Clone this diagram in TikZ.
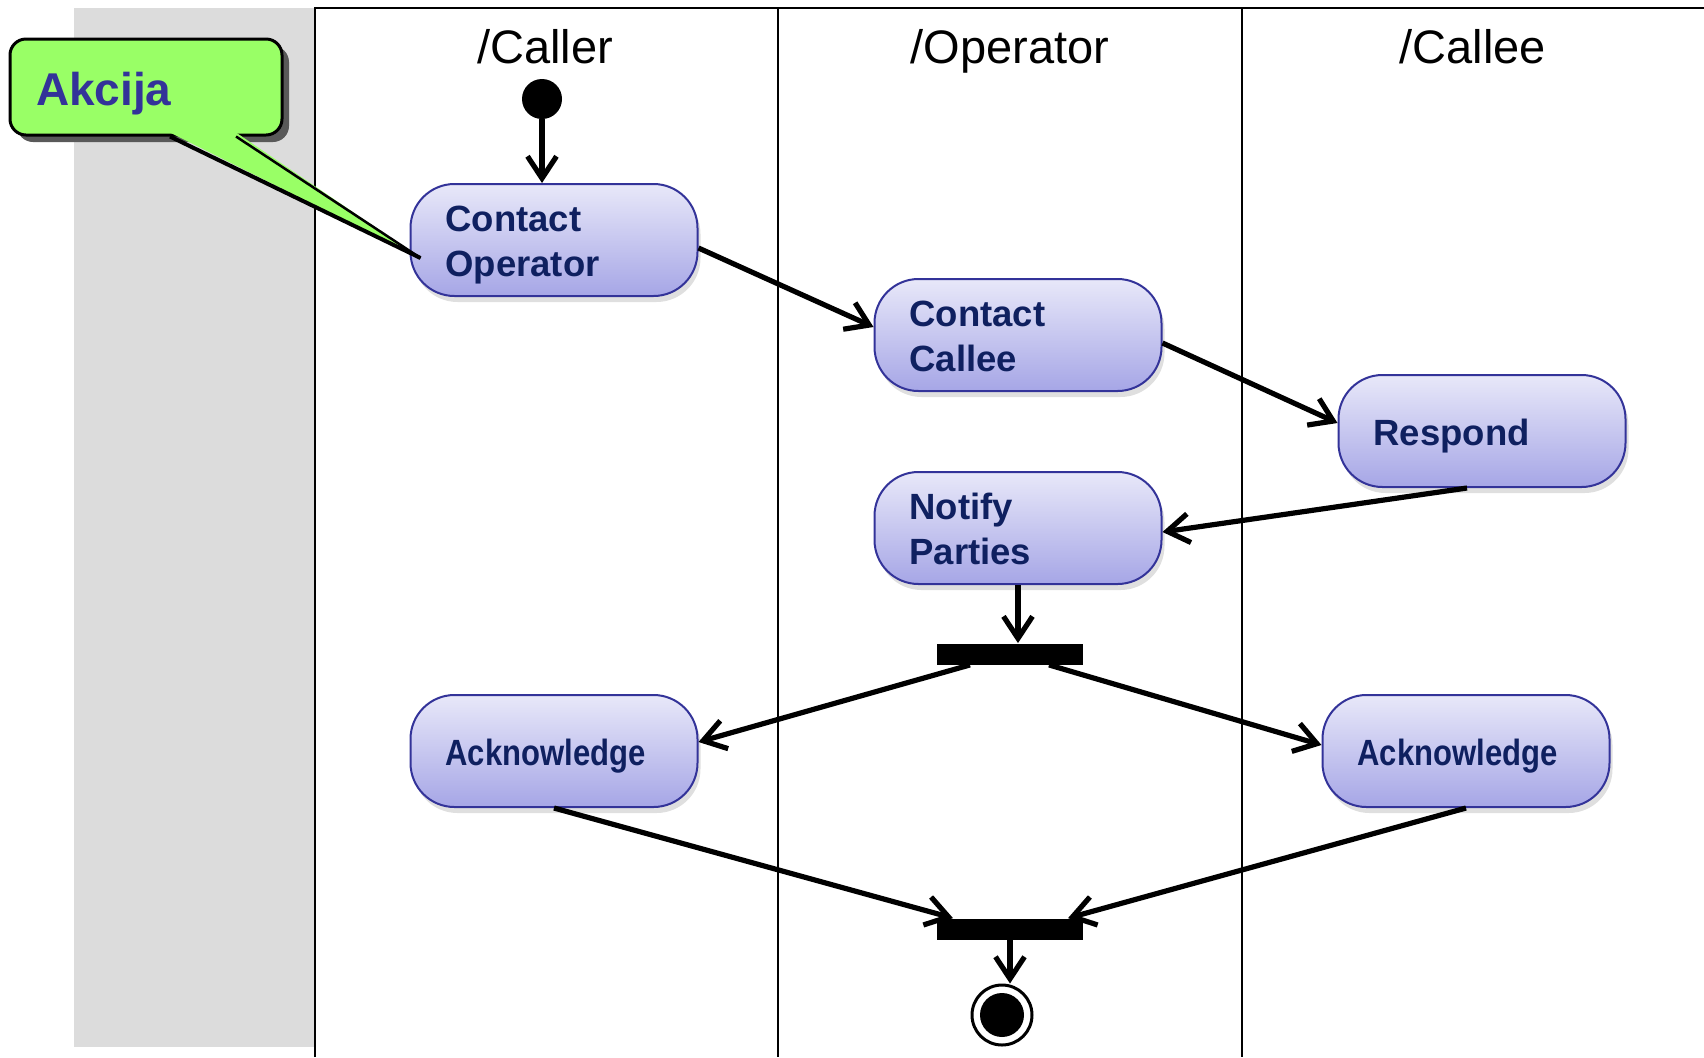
\documentclass[tikz,border=0pt]{standalone}
\usepackage{fontspec}
\setmainfont{Liberation Sans}
\usepackage{graphicx}
\usetikzlibrary{arrows.meta,shadows}
\definecolor{actfillA}{HTML}{E8E8F9}
\definecolor{actfillB}{HTML}{A6A6E6}
\definecolor{actline}{HTML}{333399}
\definecolor{acttext}{HTML}{0F2060}
\definecolor{notegreen}{HTML}{99FF66}
\definecolor{notetext}{HTML}{333399}
\definecolor{lanegray}{HTML}{DCDCDC}

\begin{document}
\begin{tikzpicture}[
  x=0.5pt, y=-0.5pt,
  act/.style={draw=actline, line width=1pt, rounded corners=22pt, top color=actfillA, bottom color=actfillB,
    minimum height=56pt, text width=108.5pt, inner xsep=17.5pt, inner ysep=0pt, align=left, text=acttext,
    font=\fontsize{18.25}{22.5}\selectfont\bfseries,
    execute at begin node={\rule{0pt}{18pt}}, execute at end node={\rule[-4pt]{0pt}{4pt}},
    drop shadow={shadow xshift=1.5pt, shadow yshift=-3pt, opacity=0.25}},
  bar/.style={fill=black, minimum width=73pt, minimum height=10.5pt, inner sep=0pt},
  lane/.style={font=\fontsize{23.5}{28}\selectfont, anchor=base},
  note/.style={draw, line width=1.5pt, fill=notegreen, rounded corners=8pt, minimum height=48pt,
    text width=110pt, inner xsep=13pt, align=left, text=notetext, font=\fontsize{23}{28}\selectfont\bfseries,
    execute at begin node={\rule{0pt}{23.3pt}},
    drop shadow={shadow xshift=3.5pt, shadow yshift=-3.5pt, fill=black!65, opacity=1}},
  arr/.style={-{Straight Barb[length=11pt,width=14.5pt]}, line width=2.6pt}
]
\useasboundingbox (0,0) rectangle (1704,1057);
% swimlanes
\fill[lanegray] (74,8) rectangle (315,1047);
\draw[line width=1.3pt] (315,1057) -- (315,8) -- (1704,8);
\draw[line width=1.3pt] (778,8) -- (778,1057);
\draw[line width=1.3pt] (1242,8) -- (1242,1057);
\node[lane] (hcaller) at (545,63) {/Caller};
\node[lane] (hoperator) at (1010,63) {/Operator};
\node[lane] (hcallee) at (1473,63) {/Callee};

% actions
\node[circle, fill=black, minimum size=20pt, inner sep=0pt] (init) at (542,99) {};
\node[act] (co) at (554,240) {Contact\\ Operator};
\node[act] (cc) at (1018,335) {Contact\\ Callee};
\node[act] (resp) at (1482,431) {Respond};
\node[act] (notify) at (1018,528) {Notify\\ Parties};
\node[bar] (fork) at (1010,654) {};
\node[act] (ackl) at (554,751) {\scalebox{0.85}[1]{Acknowledge}};
\node[act] (ackr) at (1466,751) {\scalebox{0.85}[1]{Acknowledge}};
\node[bar] (join) at (1010,929) {};
\node[circle, draw, line width=1.5pt, fill=white, minimum size=30pt, inner sep=0pt] (final) at (1002,1015) {};
\node[circle, fill=black, minimum size=22pt, inner sep=0pt] (finaldot) at (final) {};

% flows
\draw[arr] (init.south) -- (init.south |- co.north);
\draw[arr] ([yshift=-4pt]co.east) -- ([yshift=4pt]cc.west);
\draw[arr] ([yshift=-4pt]cc.east) -- ([yshift=4pt]resp.west);
\draw[arr] ([xshift=-7.5pt]resp.south) -- ([yshift=-2pt]notify.east);
\draw[arr] (notify.south) -- (notify.south |- fork.north);
\draw[arr] ([xshift=-20pt]fork.south) -- ([yshift=4.5pt]ackl.east);
\draw[arr] ([xshift=19.5pt]fork.south) -- ([yshift=3pt]ackr.west);
\draw[arr] (ackl.south) -- ([xshift=-28.5pt]join.north);
\draw[arr] (ackr.south) -- ([xshift=29pt]join.north);
\draw[arr] (join.south) -- (join.south |- final.north);

% callout
\node[note] (akcija) at (146,87) {Akcija};
\coordinate (tip) at ([xshift=5.5pt,yshift=-9pt]co.west);
\fill[notegreen] ([xshift=12pt,yshift=2pt]akcija.south) -- (tip) -- ([xshift=45pt,yshift=2pt]akcija.south) -- cycle;
\draw[line width=2pt] ([xshift=12pt]akcija.south) -- (tip);
\draw[line width=1.25pt] (tip) -- ([xshift=45pt]akcija.south);
\end{tikzpicture}
\end{document}
